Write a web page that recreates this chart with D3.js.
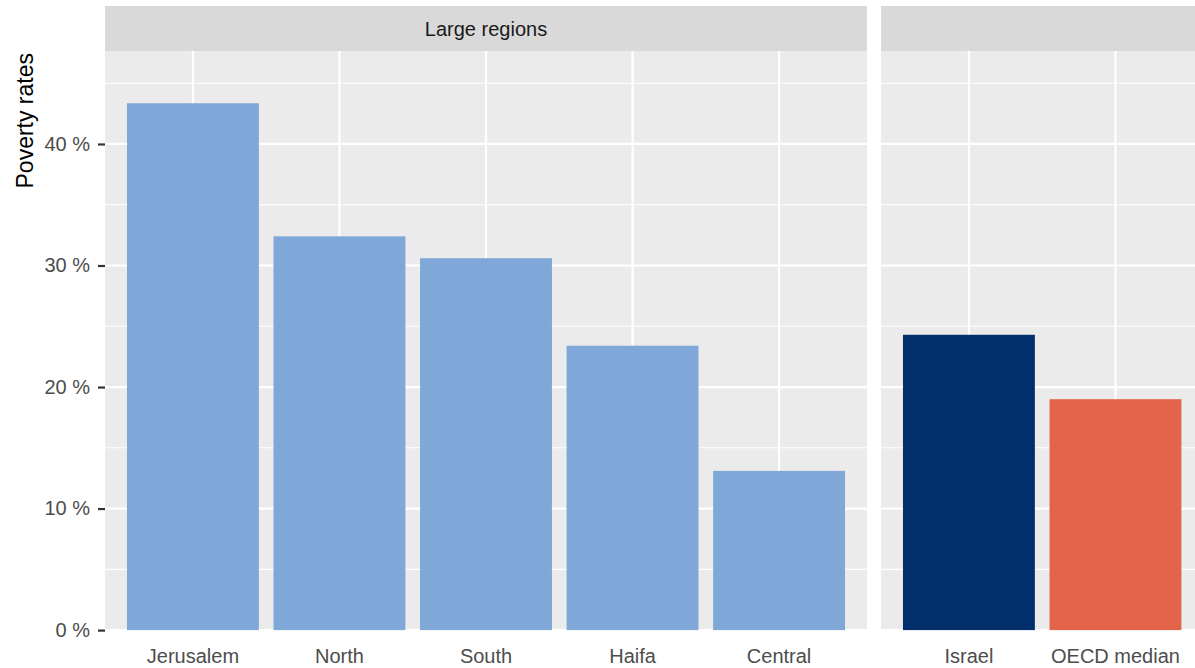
<!DOCTYPE html>
<html>
<head>
<meta charset="utf-8">
<script src="https://cdn.jsdelivr.net/npm/d3@7"></script>
<style>
	body { margin: 0; background: #fff; }
</style>
</head>
<body>
<div class="chart"></div>
<script>
var regions = ['Jerusalem', 'North', 'South', 'Haifa', 'Central'],
	regionRates = [43.35, 32.4, 30.6, 23.4, 13.1],
	references = ['Israel', 'OECD median'],
	referenceRates = [24.3, 19.0],
	yTickValues = [0, 10, 20, 30, 40],
	yMinorValues = [5, 15, 25, 35, 45],
	stripLabels = ['Large regions', ''];

var fontFamily = '"Liberation Sans Narrow", "Arial Narrow", "Liberation Sans", Arial, sans-serif',
	panelColor = '#ebebeb',
	stripColor = '#d9d9d9',
	regionColor = '#7fa7d8',
	israelColor = '#002f6c',
	oecdColor = '#e4644b',
	tickTextColor = '#4d4d4d',
	labelSize = '20px';

var width = 1195,
	height = 668;
var plotTop = 51, plotBottom = 630.1;
var leftStart = 105, leftEnd = 867, rightStart = 881;
// ggplot puts 0.6 units of padding on each side of a discrete axis
var unit = (leftEnd - leftStart) / (regions.length + 0.2);
var rightEnd = rightStart + unit * (references.length + 0.2);

var y = d3.scaleLinear().domain([0, 47.65]).range([plotBottom, plotTop]);
var xLeft = d3.scaleBand().domain(regions).range([leftStart, leftEnd])
	.paddingInner(0.1).paddingOuter(0.15);
var xRight = d3.scaleBand().domain(references).range([rightStart, rightEnd])
	.paddingInner(0.1).paddingOuter(0.15);

var svg = d3.select('.chart').append('svg')
	.attr('width', width)
	.attr('height', height)
	.attr('font-family', fontFamily);

function drawPanel(x, names, values, colors, label) {
	var x0 = x.range()[0], x1 = x.range()[1];
	var g = svg.append('g');
	// strip on top
	g.append('rect')
		.attr('x', x0).attr('y', 6)
		.attr('width', x1 - x0).attr('height', plotTop - 6)
		.attr('fill', stripColor);
	g.append('text')
		.attr('x', (x0 + x1) / 2)
		.attr('y', (6 + plotTop) / 2)
		.attr('dy', '0.35em')
		.attr('text-anchor', 'middle')
		.attr('font-size', labelSize)
		.attr('fill', '#1a1a1a')
		.text(label);
	// panel background
	g.append('rect')
		.attr('x', x0).attr('y', plotTop)
		.attr('width', x1 - x0).attr('height', plotBottom - plotTop)
		.attr('fill', panelColor);
	// minor grid
	g.selectAll('.minor').data(yMinorValues).enter().append('line')
		.attr('x1', x0).attr('x2', x1)
		.attr('y1', function(d) { return y(d); })
		.attr('y2', function(d) { return y(d); })
		.attr('stroke', '#fff')
		.attr('stroke-width', 1.1);
	// major grid
	g.selectAll('.major').data(yTickValues).enter().append('line')
		.attr('x1', x0).attr('x2', x1)
		.attr('y1', function(d) { return y(d); })
		.attr('y2', function(d) { return y(d); })
		.attr('stroke', '#fff')
		.attr('stroke-width', 2.2);
	g.selectAll('.vgrid').data(names).enter().append('line')
		.attr('x1', function(d) { return x(d) + x.bandwidth() / 2; })
		.attr('x2', function(d) { return x(d) + x.bandwidth() / 2; })
		.attr('y1', plotTop).attr('y2', plotBottom)
		.attr('stroke', '#fff')
		.attr('stroke-width', 2.2);
	// bars
	g.selectAll('.bar').data(names).enter().append('rect')
		.attr('x', function(d) { return x(d); })
		.attr('y', function(d, i) { return y(values[i]); })
		.attr('width', x.bandwidth())
		.attr('height', function(d, i) { return y(0) - y(values[i]); })
		.attr('fill', function(d, i) { return colors[i]; });
	// x axis labels, no tick marks
	var axis = g.append('g')
		.attr('transform', 'translate(0,' + plotBottom + ')')
		.call(d3.axisBottom(x).tickSize(0).tickPadding(19));
	axis.select('.domain').remove();
	axis.selectAll('text')
		.attr('font-family', fontFamily)
		.attr('font-size', labelSize)
		.attr('fill', tickTextColor);
}

drawPanel(xLeft, regions, regionRates, regions.map(function() { return regionColor; }), stripLabels[0]);
drawPanel(xRight, references, referenceRates, [israelColor, oecdColor], stripLabels[1]);

// y axis
var yAxis = svg.append('g')
	.attr('transform', 'translate(' + leftStart + ',0)')
	.call(d3.axisLeft(y)
		.tickValues(yTickValues)
		.tickSize(7)
		.tickPadding(8)
		.tickFormat(function(d) { return d + ' %'; }));
yAxis.select('.domain').remove();
yAxis.selectAll('line')
	.attr('stroke', '#333')
	.attr('stroke-width', 2.2);
yAxis.selectAll('text')
	.attr('font-family', fontFamily)
	.attr('font-size', labelSize)
	.attr('fill', tickTextColor);

// y axis title, aligned to the top of the panel
svg.append('text')
	.attr('transform', 'translate(33,' + (plotTop + 2) + ') rotate(-90)')
	.attr('text-anchor', 'end')
	.attr('font-size', '23px')
	.attr('fill', '#000')
	.text('Poverty rates');
</script>
</body>
</html>
